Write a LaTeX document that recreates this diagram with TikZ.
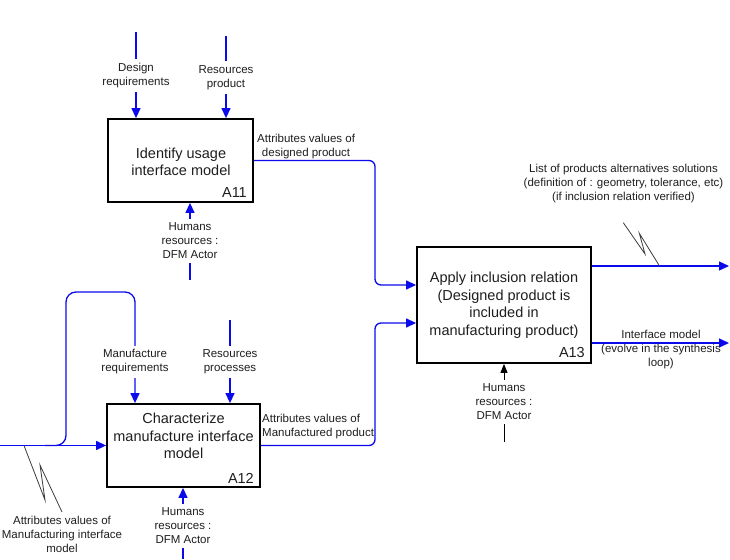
\documentclass[tikz,border=0pt]{standalone}
\usepackage{fontspec}
\setmainfont{Liberation Sans}
\usetikzlibrary{arrows.meta}
\definecolor{flow}{RGB}{10,10,235}
\definecolor{txt}{RGB}{30,30,30}
\definecolor{sqc}{RGB}{60,60,60}
\begin{document}
\begin{tikzpicture}[x=1pt,y=-1pt,
  box/.style={draw=black, line width=1.8pt, minimum width=#1, inner sep=0pt},
  ttl/.style={font=\fontsize{14.5}{17.5}\selectfont, align=center, inner sep=0pt, text=txt},
  boxid/.style={font=\fontsize{14.5}{17.5}\selectfont, inner sep=0pt, text=txt, anchor=base east},
  lbl/.style={font=\fontsize{11.5}{14}\selectfont, align=center, inner sep=1pt, text=txt},
  onl/.style={lbl, fill=white, inner xsep=2pt, inner ysep=4pt},
  flow/.style={draw=flow, line width=1.3pt, -{Triangle[length=10pt,width=9pt]}},
  blk/.style={draw=black, line width=0.9pt, -{Triangle[length=9pt,width=7pt]}},
  sq/.style={draw=sqc, line width=0.8pt}]
\useasboundingbox (0,0) rectangle (730,559);

% boxes
\node[box=145pt, minimum height=83pt] (a11) at (180.5,160.5) {};
\node[box=153pt, minimum height=83pt] (a12) at (183.5,445.5) {};
\node[box=174pt, minimum height=116pt] (a13) at (504,305) {};
\node[ttl] (t11) at (181,162) {Identify usage\\interface model};
\node[ttl] (t12) at (183.5,436) {Characterize\\manufacture interface\\model};
\node[ttl] (t13) at (504,305) {Apply inclusion relation\\(Designed product is\\included in\\manufacturing product)};
\node[boxid] (id11) at (247,197) {A11};
\node[boxid] (id12) at (254,483) {A12};
\node[boxid] (id13) at (585,357) {A13};

% coordinates
\coordinate (dreqTop) at (136,32);
\coordinate (rprodTop) at (226,36);
\coordinate (h11Bot) at (190,280);
\coordinate (rprocTop) at (230,320);
\coordinate (h12Bot) at (183,559);
\coordinate (h13Bot) at (504,442);
\coordinate (leftIn) at (0,445.5);
\coordinate (loopStart) at (45,445.5);
\coordinate (mreqX) at (135,292);
\coordinate (j1) at (375,285);
\coordinate (j2) at (375,323);
\coordinate (out1) at (729,266);
\coordinate (out2) at (729,343);

% A11 inputs/controls
\draw[flow] (dreqTop) -- (dreqTop |- a11.north);
\node[onl] (dreq) at (136,75.5) {Design\\requirements};
\draw[flow] (rprodTop) -- (rprodTop |- a11.north);
\node[onl] (rprod) at (226,77.5) {Resources\\product};
\draw[flow] (h11Bot) -- (h11Bot |- a11.south);
\node[onl] (h11) at (190,241) {Humans\\resources :\\DFM Actor};

% A12 inputs/controls
\draw[flow] (leftIn) -- (a12.west);
\draw[flow, rounded corners=10pt] (loopStart) -- (66,445.5) -- (66,292) -- (mreqX) -- (mreqX |- a12.north);
\node[onl] (mreq) at (135,362) {Manufacture\\requirements};
\draw[flow] (rprocTop) -- (rprocTop |- a12.north);
\node[onl] (rproc) at (230,362) {Resources\\processes};
\draw[flow] (h12Bot) -- (h12Bot |- a12.south);
\node[onl] (h12) at (183,526) {Humans\\resources :\\DFM Actor};

% A13 mechanism
\draw[blk] (h13Bot) -- (h13Bot |- a13.south);
\node[onl] (h13) at (504,402) {Humans\\resources :\\DFM Actor};

% outputs A11, A12 -> A13
\draw[flow, rounded corners=6pt] (a11.east) -- (a11.east -| j1) -- (j1) -- (a13.west |- j1);
\draw[flow, rounded corners=6pt] (a12.east) -- (a12.east -| j2) -- (j2) -- (a13.west |- j2);
\node[lbl, anchor=west] (o11) at (256,147) {Attributes values of\\[-0pt]designed product};
\node[lbl, anchor=west, align=left] (o12) at (261,426.5) {Attributes values of\\Manufactured product};

% A13 outputs
\draw[flow] (a13.east |- out1) -- (out1);
\draw[flow] (a13.east |- out2) -- (out2);
\node[lbl] (o13a) at (623.5,184) {List of products alternatives solutions\\(definition of : geometry, tolerance, etc)\\(if inclusion relation verified)};
\node[lbl] (o13b) at (661,350) {Interface model\\(evolve in the synthesis\\loop)};

% squiggles
\coordinate (s1a) at (623.3,222.7);
\coordinate (s1b) at (659.5,266);
\draw[sq] (s1a) -- (645,254) -- (639.3,233.3) -- (s1b);
\coordinate (s2a) at (24,445.5);
\coordinate (s2b) at (62,512);
\draw[sq] (s2a) -- (45,500) -- (40,465) -- (s2b);
\node[lbl] (i12) at (62,534) {Attributes values of\\Manufacturing interface\\model};
\end{tikzpicture}
\end{document}
